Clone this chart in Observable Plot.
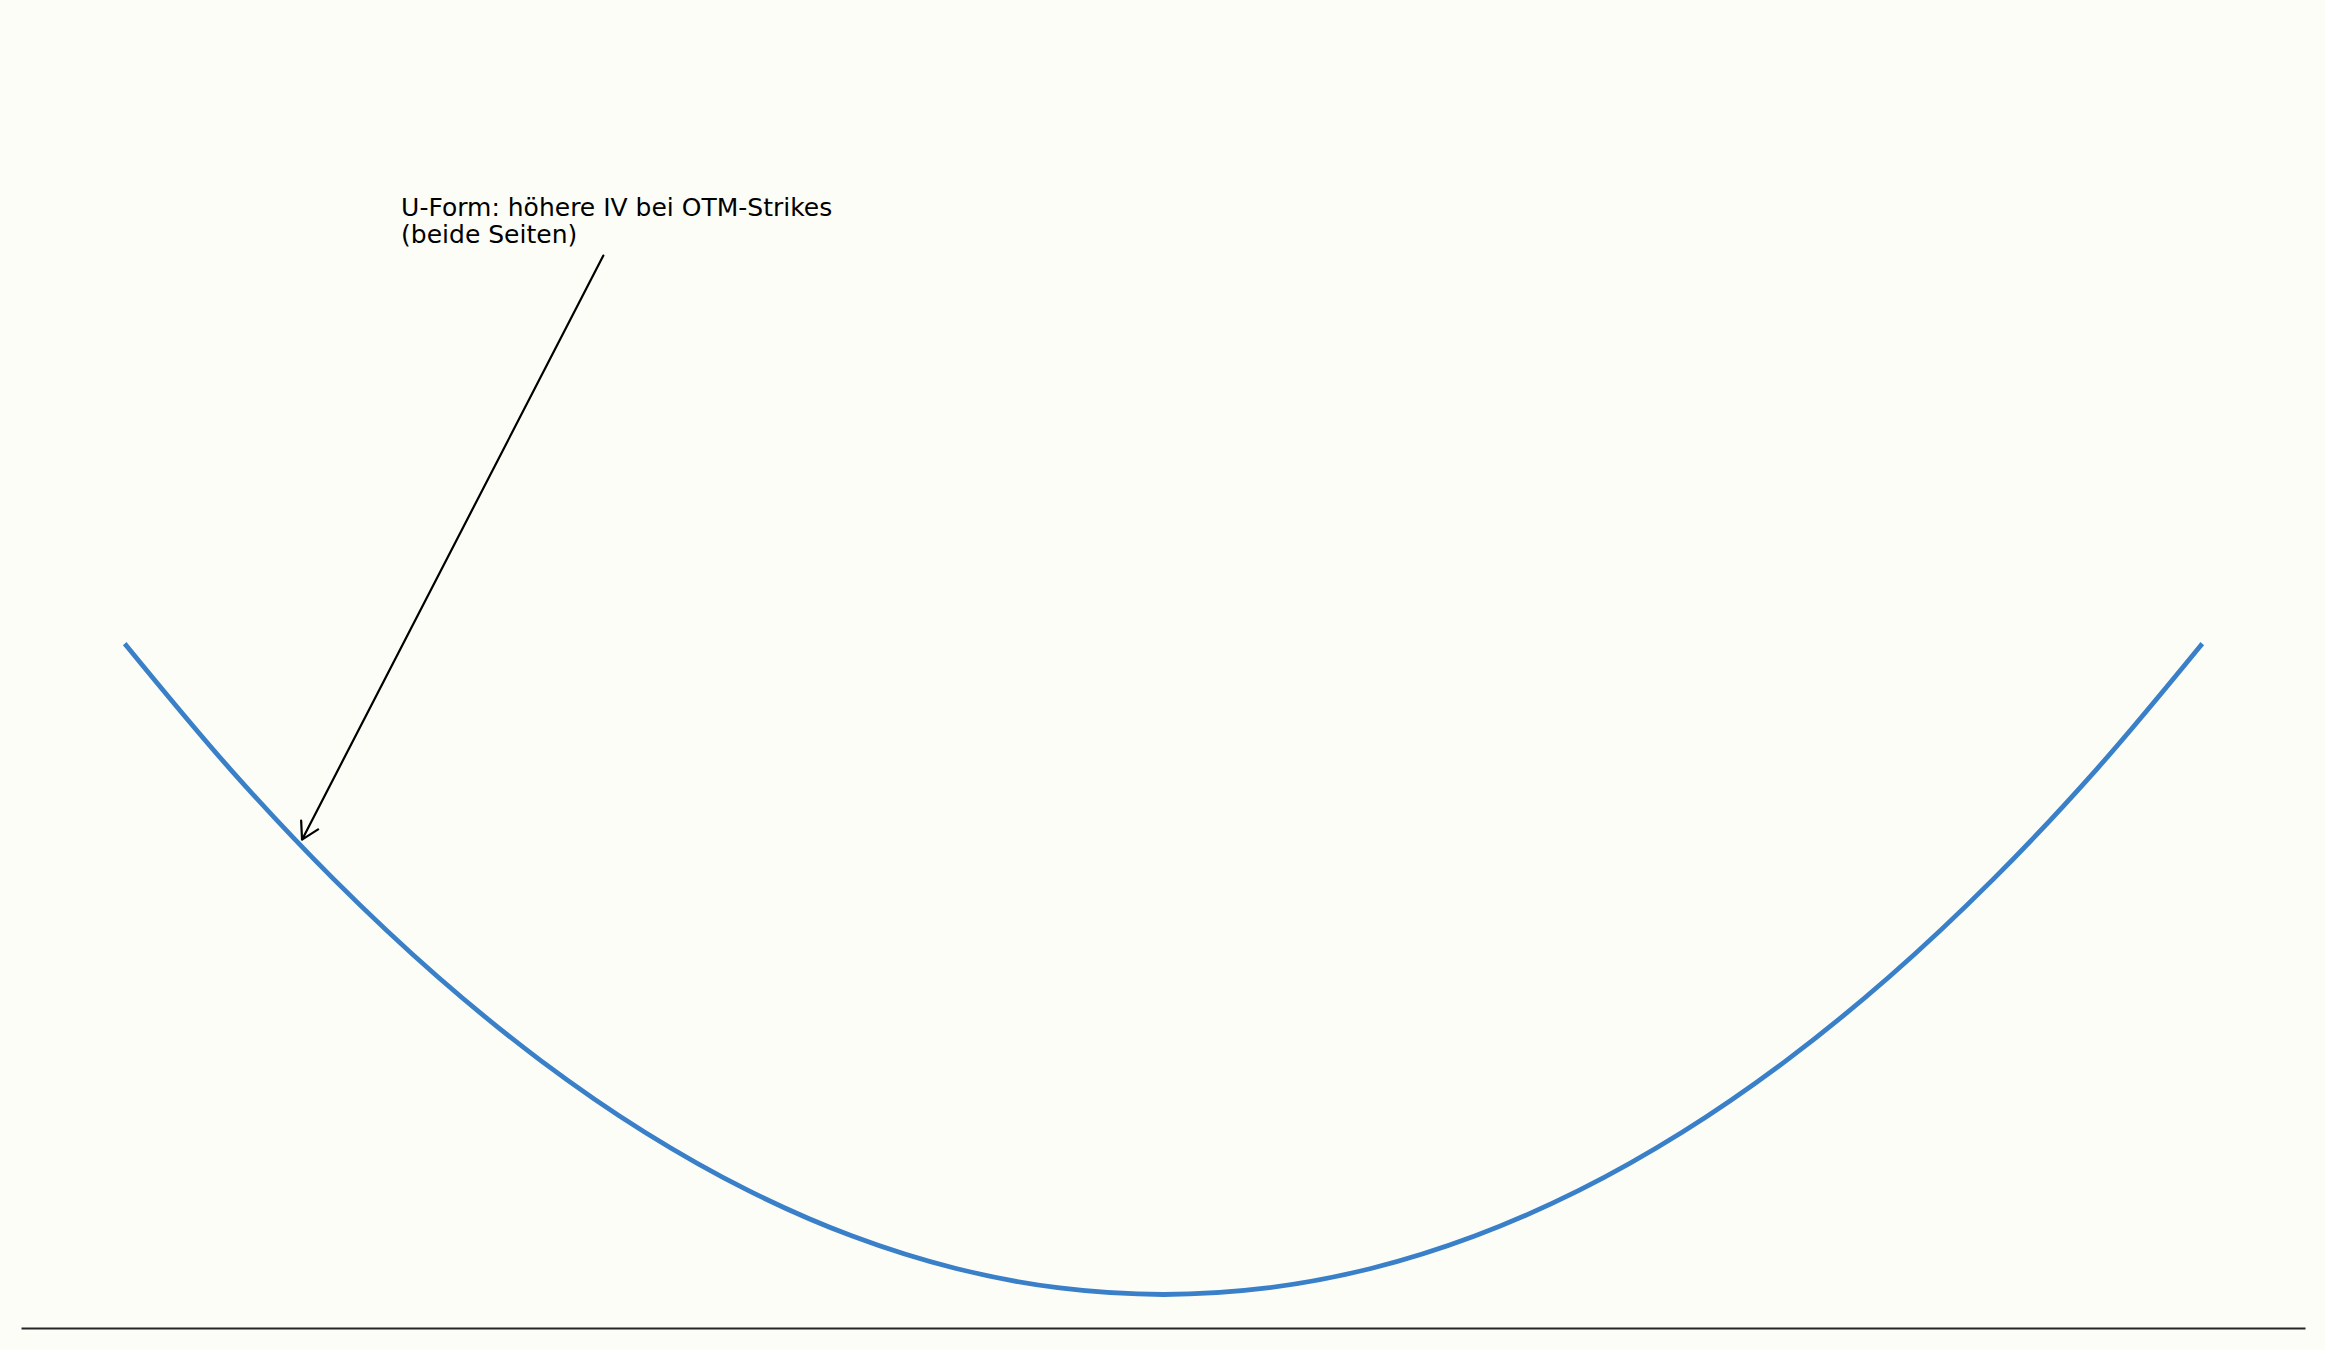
<!DOCTYPE html>
<html>
<head>
<meta charset="utf-8">
<script src="https://cdn.jsdelivr.net/npm/d3@7"></script>
<script src="https://cdn.jsdelivr.net/npm/@observablehq/plot@0.6"></script>
<style>
  html, body { margin: 0; padding: 0; background: #fdfdf8; }
  #chart svg { display: block; }
</style>
</head>
<body>
<div id="chart"></div>
<script>
// Strike prices (relative, ATM = 100)
const strikes = [80, 82, 84, 86, 88, 90, 92, 94, 96, 98, 100, 102, 104, 106, 108, 110, 112, 114, 116, 118, 120];
// Implied volatility (%)
const iv = [32.00, 29.72, 27.68, 25.88, 24.32, 23.00, 21.92, 21.08, 20.48, 20.12, 20.00,
            20.12, 20.48, 21.08, 21.92, 23.00, 24.32, 25.88, 27.68, 29.72, 32.00];

// Annotation (data units)
const noteText = ["U-Form: höhere IV bei OTM-Strikes\n(beide Seiten)"];
const noteX = [85.3];
const noteY = [40.30];
const arrowFrom = [89.2, 39.21];
const arrowTo = [83.39, 28.41];

const data = strikes.map((k, i) => ({strike: k, iv: iv[i]}));

const chart = Plot.plot({
  width: 2325,
  height: 1350,
  marginLeft: 22,
  marginRight: 21,
  marginTop: 40,
  marginBottom: 22,
  style: {background: "#fdfdf8", fontFamily: "DejaVu Sans"},
  x: {domain: [78, 122], axis: null},
  y: {domain: [19.371, 43.186], axis: null},
  marks: [
    Plot.frame({anchor: "bottom", stroke: "#262626", strokeWidth: 2}),
    Plot.line(data, {x: "strike", y: "iv", stroke: "#3a80c8", strokeWidth: 4.8, curve: "catmull-rom", strokeLinecap: "square"}),
    Plot.arrow([{x1: arrowFrom[0], y1: arrowFrom[1], x2: arrowTo[0], y2: arrowTo[1]}], {
      x1: "x1", y1: "y1", x2: "x2", y2: "y2", stroke: "#000", strokeWidth: 2.2, headLength: 13, headAngle: 60
    }),
    Plot.text(noteText.map((t, i) => ({t, x: noteX[i], y: noteY[i]})), {
      x: "x", y: "y", text: "t", textAnchor: "start", lineAnchor: "top",
      fontSize: 25, fontFamily: "DejaVu Sans", fill: "#000", lineHeight: 1.08
    })
  ]
});
document.getElementById("chart").appendChild(chart);
</script>
</body>
</html>
